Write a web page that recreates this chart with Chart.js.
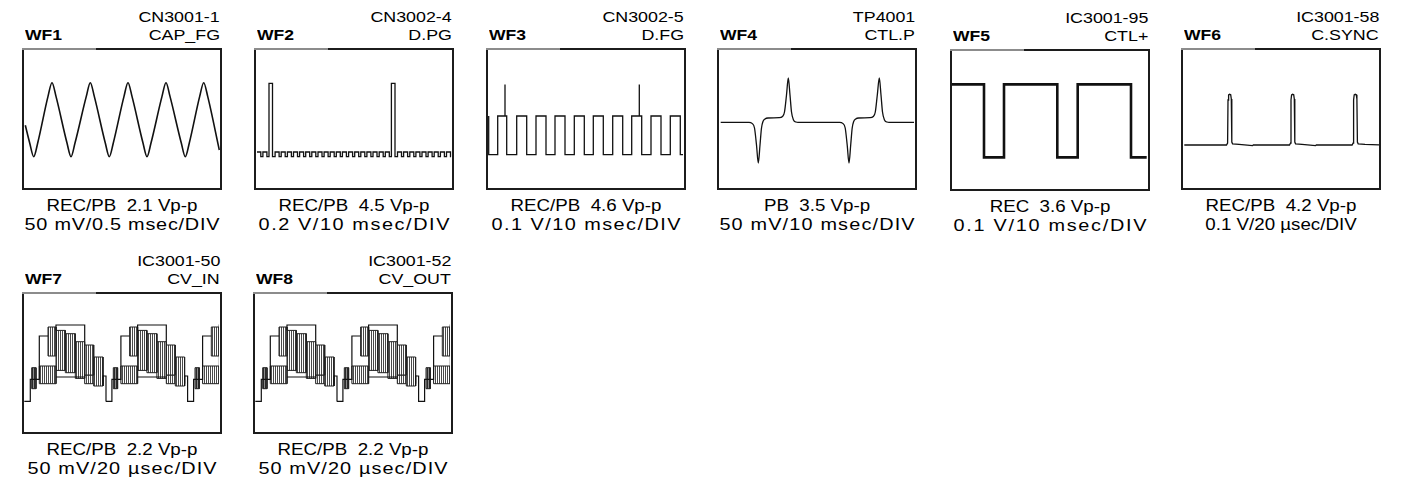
<!DOCTYPE html>
<html>
<head>
<meta charset="utf-8">
<script src="https://cdn.jsdelivr.net/npm/chart.js@4.4.0/dist/chart.umd.min.js"></script>
<style>
  body { margin: 0; background: #fff; width: 1413px; height: 483px; position: relative; overflow: hidden;
         font-family: "Liberation Sans", Arial, sans-serif; color: #000; }
  .box { position: absolute; box-sizing: border-box; width: 200px; height: 142px; border: 2px solid #1c1c1c; }
  .box canvas { display: block; }
  .edge { position: absolute; width: 74px; height: 2px; background: #8c8c8c; }
  .lbl { position: absolute; white-space: pre; line-height: 0; }
  .wf { font-weight: bold; font-size: 15px; transform-origin: left center; transform: scaleX(1.17); }
  .tp { font-size: 15.5px; transform-origin: right center; transform: scaleX(1.15); text-align: right; }
  .info { font-size: 16px; width: 300px; text-align: center; transform-origin: center center; transform: scaleX(1.17); }
</style>
</head>
<body>
<script>
// ---- labels ----
const panelNames = ['WF1', 'WF2', 'WF3', 'WF4', 'WF5', 'WF6', 'WF7', 'WF8'];
const testPoints = ['CN3001-1', 'CN3002-4', 'CN3002-5', 'TP4001', 'IC3001-95', 'IC3001-58', 'IC3001-50', 'IC3001-52'];
const signalNames = ['CAP_FG', 'D.PG', 'D.FG', 'CTL.P', 'CTL+', 'C.SYNC', 'CV_IN', 'CV_OUT'];
const modeLabels = ['REC/PB  2.1 Vp-p', 'REC/PB  4.5 Vp-p', 'REC/PB  4.6 Vp-p', 'PB  3.5 Vp-p',
                    'REC  3.6 Vp-p', 'REC/PB  4.2 Vp-p', 'REC/PB  2.2 Vp-p', 'REC/PB  2.2 Vp-p'];
const scaleLabels = ['50 mV/0.5 msec/DIV', '0.2 V/10 msec/DIV', '0.1 V/10 msec/DIV', '50 mV/10 msec/DIV',
                     '0.1 V/10 msec/DIV', '0.1 V/20 µsec/DIV', '50 mV/20 µsec/DIV', '50 mV/20 µsec/DIV'];

// ---- waveforms (x: 0..200 across the screen, y: 0..142 from the bottom) ----
// WF1 CAP_FG
const capFgX = [3.3, 7.7, 11.7, 15.7, 26, 30, 34, 45, 49, 53, 64.3, 68.3, 72.3, 83.3, 87.3, 91.3,
                102, 106, 110, 121, 125, 129, 140, 144, 148, 159.3, 163.3, 167.3, 177.7, 181.7, 185.7, 197.3];
const capFgY = [64.7, 47, 33.3, 47, 93.6, 107.3, 93.6, 47, 33.3, 47, 93.6, 107.3, 93.6, 47, 33.3, 47,
                93.6, 107.3, 93.6, 47, 33.3, 47, 93.6, 107.3, 93.6, 47, 33.3, 47, 93.6, 107.3, 93.6, 40];

// WF2 D.PG (edges: level switches to y at x)
const dpgX = [3, 6.8, 8.9, 12.9, 15, 18.5, 21.1, 25.1, 27.2, 31.2, 33.4, 37.4, 39.5, 43.5, 45.6, 49.6,
              51.7, 55.7, 57.8, 61.8, 64, 68, 70.1, 74.1, 76.2, 80.2, 82.3, 86.3, 88.4, 92.4, 94.6, 98.6,
              100.7, 104.7, 106.8, 110.8, 112.9, 116.9, 119, 123, 125.2, 129.2, 131.3, 135.3, 137.4, 141,
              143.5, 147.5, 149.6, 153.6, 155.8, 159.8, 161.9, 165.9, 168, 172, 174.1, 178.1, 180.2, 184.2,
              186.4, 190.4, 192.5, 196.5, 197];
const dpgY = [38, 33.3, 38, 33.3, 106.7, 33.3, 38, 33.3, 38, 33.3, 38, 33.3, 38, 33.3, 38, 33.3,
              38, 33.3, 38, 33.3, 38, 33.3, 38, 33.3, 38, 33.3, 38, 33.3, 38, 33.3, 38, 33.3,
              38, 33.3, 38, 33.3, 38, 33.3, 38, 33.3, 38, 33.3, 38, 33.3, 106.7, 33.3,
              38, 33.3, 38, 33.3, 38, 33.3, 38, 33.3, 38, 33.3, 38, 33.3, 38, 33.3,
              38, 33.3, 38, 33.3, 33.3];

// WF3 D.FG
const dfgX = [2.7, 2.7, 11.7, 19, 19, 20.7, 30.7, 40.7, 50, 60, 69, 79, 88.3, 98.3, 107.3, 117.3,
              126.7, 136.7, 145.7, 153.3, 153.3, 155.7, 165, 175, 184.3, 194.3, 197];
const dfgY = [74, 35.4, 74, 105.4, 74, 35.4, 74, 35.4, 74, 35.4, 74, 35.4, 74, 35.4, 74, 35.4,
              74, 35.4, 74, 105.4, 74, 35.4, 74, 35.4, 74, 35.4, 35.4];

// WF4 CTL.P
const ctlPX = [3.7, 32, 35, 37.5, 39.5, 41.3, 43, 44.5, 46, 48, 51, 62, 65.5, 67.5, 69.5, 71.3, 73, 74.5, 76.5, 79, 81,
               122.7, 125.7, 128.2, 130.2, 132, 133.7, 135.2, 136.7, 138.7, 141.7, 152.8, 156.3, 158.3, 160.3,
               162.3, 164, 165.5, 167.5, 170, 172, 197];
const ctlPY = [67.6, 67.6, 66.6, 62, 45, 27, 45, 62, 68.5, 71, 72, 72.3, 73.5, 78, 95, 112, 95, 78, 70, 68, 67.6,
               67.6, 66.6, 62, 45, 27, 45, 62, 68.5, 71, 72, 72.3, 73.5, 78, 95,
               112, 95, 78, 70, 68, 67.6, 67.6];

// WF5 CTL+
const ctlX = [1.7, 34, 54, 107.3, 127.7, 181, 196.7];
const ctlY = [106.6, 33.6, 106.6, 33.6, 106.6, 33.6, 33.6];

// WF6 C.SYNC
const csyncX = [3.3, 45.5, 46.6, 47, 47.6, 48.6, 49.7, 50.3, 50.8, 51.6, 58, 71.5, 72.3,
                108.5, 109.6, 110, 110.6, 111.6, 112.7, 113.3, 113.8, 114.6, 121, 134.5, 135.3,
                171.1, 172.2, 172.6, 173.2, 174.2, 175.3, 175.9, 176.4, 177.2, 184, 198];
const csyncY = [45, 45, 47, 90, 95.2, 95.7, 95.3, 91, 48, 46.2, 45.6, 44.3, 45,
                45, 47, 90, 95.2, 95.7, 95.3, 91, 48, 46.2, 45.6, 44.3, 45,
                45, 47, 90, 95.2, 95.7, 95.3, 91, 48, 46.2, 45.6, 45.2];

// WF7 / WF8 CV: one line period, repeated at the measured line starts
const cvStarts = [0, 81.6, 163.3];
const cvTraceX = [2.3, 8.3, 8.3, 17.3, 17.3, 26, null, 34, 34, 62.7, 62.7, null, 34, 62.7, null, 81, 81, 84, 84];
const cvTraceY = [32.6, 32.6, 54.6, 54.6, 98, 98, null, 103.6, 109, 109, 92.3, null, 57, 57, null, 48, 58, 58, 32.6];
// chroma blocks (first one is the burst)
const cvBlockX0 = [9.7, 17.3, 26, 34, 43.3, 53.3, 62.7, 71.7, 62.7];
const cvBlockX1 = [14, 34, 34, 43.3, 53.3, 62.7, 71.7, 81, 81];
const cvBlockLo = [45.3, 50.3, 78, 63.6, 61.3, 55.6, 59, 48, 50.3];
const cvBlockHi = [66.3, 68, 107, 103.6, 100.3, 92.3, 89, 77, 59];

// ---- layout ----
const boxLeft = [22, 254, 486, 717, 950, 1181, 22, 253];
const boxTop = [48, 48, 48, 48, 49, 48, 292, 292];
const scaleTextWidth = [196, 192, 190, 196, 194, 0, 190, 190];
const SX = 1.17;

function series(xs, ys, dx = 0) {
    return xs.map((x, i) => ({ x: x === null ? 0 : x + dx, y: ys[i] }));
}

function hatch(dark, light) {
    const c = document.createElement('canvas');
    c.width = 2; c.height = 1;
    const g = c.getContext('2d');
    g.fillStyle = light; g.fillRect(0, 0, 2, 1);
    g.fillStyle = dark; g.fillRect(0, 0, 1, 1);
    return g.createPattern(c, 'repeat');
}

function cvDatasets() {
    const clip = { left: 0, top: 0, right: -1, bottom: 0 };
    const stripes = hatch('#4a4a4a', '#ffffff');
    const burst = hatch('#2a2a2a', '#8a8a8a');
    const trace = [];
    cvStarts.forEach(s => trace.push(...series(cvTraceX, cvTraceY, s)));
    const sets = [{ data: trace, borderWidth: 1.2, clip }];
    cvStarts.forEach(s => {
        cvBlockX0.forEach((x0, i) => {
            const a = x0 + s, b = cvBlockX1[i] + s, lo = cvBlockLo[i], hi = cvBlockHi[i];
            sets.push({
                data: [{ x: a, y: lo }, { x: a, y: hi }, { x: b, y: hi }, { x: b, y: lo }, { x: a, y: lo }],
                fill: 'shape',
                backgroundColor: i === 0 ? burst : stripes,
                borderColor: '#222',
                borderWidth: 1,
                clip
            });
        });
    });
    return sets;
}

function panelDatasets(i) {
    switch (i) {
        case 0: return [{ data: series(capFgX, capFgY), cubicInterpolationMode: 'monotone', borderWidth: 1.6 }];
        case 1: return [{ data: series(dpgX, dpgY), stepped: 'before', borderWidth: 1.3 }];
        case 2: return [{ data: series(dfgX, dfgY), stepped: 'before', borderWidth: 1.3 }];
        case 3: return [{ data: series(ctlPX, ctlPY), cubicInterpolationMode: 'monotone', borderWidth: 1.3 }];
        case 4: return [{ data: series(ctlX, ctlY), stepped: 'before', borderWidth: 2.6 }];
        case 5: return [{ data: series(csyncX, csyncY), borderWidth: 1.3 }];
        default: return cvDatasets();
    }
}

function addLabel(cls, text, css) {
    const d = document.createElement('div');
    d.className = 'lbl ' + cls;
    Object.assign(d.style, css);
    const s = document.createElement('span');
    s.textContent = text;
    d.appendChild(s);
    document.body.appendChild(d);
    return s;
}

panelNames.forEach((name, i) => {
    const L = boxLeft[i], T = boxTop[i], B = T + 142;

    const box = document.createElement('div');
    box.className = 'box';
    box.style.left = L + 'px';
    box.style.top = T + 'px';
    const cv = document.createElement('canvas');
    cv.width = 196; cv.height = 138;
    cv.style.width = '196px'; cv.style.height = '138px';
    box.appendChild(cv);
    document.body.appendChild(box);

    const edge = document.createElement('div');
    edge.className = 'edge';
    edge.style.left = L + 'px';
    edge.style.top = T + 'px';
    document.body.appendChild(edge);

    addLabel('wf', name, { left: (L + 3) + 'px', top: (T - 13.2) + 'px' });
    addLabel('tp', testPoints[i], { right: (1413 - (L + 198)) + 'px', top: (T - 30.9) + 'px' });
    addLabel('tp', signalNames[i], { right: (1413 - (L + 198)) + 'px', top: (T - 13.4) + 'px' });
    addLabel('info', modeLabels[i], { left: (L + 100 - 150) + 'px', top: (B + 16) + 'px' });
    const sc = addLabel('info', scaleLabels[i], { left: (L + 100 - 150) + 'px', top: (B + 34.5) + 'px' });
    // the second caption line is spread to its measured width: some stretch, the rest as spacing
    if (scaleTextWidth[i]) {
        const w = sc.offsetWidth;
        const k = Math.min(scaleTextWidth[i] / w, 1.24);
        sc.parentNode.style.transform = 'scaleX(' + k + ')';
        const ls = (scaleTextWidth[i] / k - w) / scaleLabels[i].length;
        if (ls > 0) {
            sc.style.letterSpacing = ls + 'px';
            sc.style.paddingLeft = ls + 'px';
        }
    }

    new Chart(cv, {
        type: 'line',
        data: { datasets: panelDatasets(i) },
        options: {
            responsive: false,
            animation: false,
            events: [],
            layout: { padding: 0 },
            plugins: { legend: { display: false }, tooltip: { enabled: false }, title: { display: false } },
            scales: {
                x: { type: 'linear', display: false, min: 2, max: 198 },
                y: { type: 'linear', display: false, min: 2, max: 140 }
            },
            elements: {
                point: { radius: 0 },
                line: { borderColor: '#111', borderWidth: 1.3, tension: 0, fill: false, borderJoinStyle: 'miter' }
            }
        }
    });
});
</script>
</body>
</html>
